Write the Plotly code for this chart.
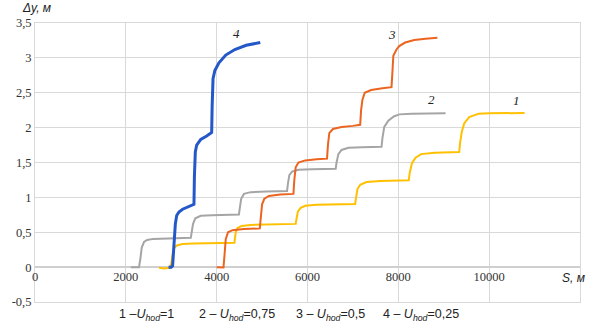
import plotly.graph_objects as go

# ---- data ----
s1 = [2730, 2850, 2960, 3000, 3030, 3060, 3120, 3250, 3500, 4000, 4390,
      4400, 4420, 4460, 4550, 4750, 5200, 5740,
      5760, 5790, 5850, 5950, 6200, 6600, 7050,
      7070, 7100, 7160, 7300, 7600, 8230,
      8250, 8300, 8380, 8500, 8800, 9340,
      9360, 9400, 9450, 9560, 9770, 10000, 10780]
y1 = [-0.01, -0.02, -0.01, 0.05, 0.18, 0.27, 0.31, 0.33, 0.34, 0.345, 0.35,
      0.40, 0.50, 0.56, 0.59, 0.605, 0.61, 0.62,
      0.70, 0.80, 0.85, 0.88, 0.895, 0.90, 0.905,
      1.00, 1.12, 1.18, 1.22, 1.235, 1.245,
      1.35, 1.49, 1.57, 1.62, 1.64, 1.65,
      1.78, 1.95, 2.06, 2.15, 2.20, 2.205, 2.21]

s2 = [2110, 2200, 2290, 2320, 2350, 2400, 2470, 2600, 2900, 3430,
      3450, 3480, 3530, 3650, 3900, 4490,
      4510, 4540, 4600, 4750, 5100, 5550,
      5570, 5600, 5660, 5800, 6100, 6620,
      6640, 6680, 6750, 6900, 7200, 7630,
      7650, 7690, 7780, 7900, 8020, 8300, 9040]
y2 = [0.0, -0.005, 0.0, 0.12, 0.28, 0.36, 0.39, 0.405, 0.41, 0.42,
      0.50, 0.62, 0.70, 0.735, 0.745, 0.755,
      0.85, 0.98, 1.05, 1.075, 1.085, 1.09,
      1.20, 1.32, 1.37, 1.395, 1.405, 1.41,
      1.50, 1.62, 1.68, 1.71, 1.72, 1.725,
      1.85, 2.01, 2.10, 2.16, 2.19, 2.20, 2.205]

s3 = [4000, 4100, 4150, 4170, 4200, 4250, 4350, 4600, 4950,
      4970, 5000, 5050, 5150, 5400, 5690,
      5710, 5740, 5800, 5950, 6200, 6430,
      6450, 6480, 6560, 6750, 7000, 7160,
      7180, 7210, 7260, 7400, 7650, 7850,
      7870, 7890, 7960, 8020, 8150, 8350, 8600, 8860]
y3 = [0.0, 0.0, -0.005, 0.15, 0.40, 0.50, 0.53, 0.545, 0.555,
      0.70, 0.90, 0.98, 1.02, 1.04, 1.05,
      1.25, 1.43, 1.50, 1.53, 1.545, 1.555,
      1.75, 1.92, 1.98, 2.01, 2.025, 2.04,
      2.25, 2.40, 2.50, 2.54, 2.565, 2.58,
      2.80, 3.03, 3.12, 3.17, 3.22, 3.255, 3.275, 3.29]

s4 = [2940, 3000, 3030, 3060, 3090, 3120, 3170, 3250, 3400, 3500,
      3510, 3530, 3560, 3650, 3780, 3890,
      3900, 3920, 3960, 4050, 4200, 4400, 4650, 4960]
y4 = [0.0, 0.0, 0.02, 0.35, 0.62, 0.74, 0.79, 0.83, 0.87, 0.90,
      1.30, 1.65, 1.75, 1.83, 1.88, 1.93,
      2.30, 2.70, 2.82, 2.93, 3.04, 3.12, 3.18, 3.22]

series = [("1", s1, y1, "#FFC000", 2.0),
          ("2", s2, y2, "#A5A5A5", 2.0),
          ("3", s3, y3, "#EB6420", 2.0),
          ("4", s4, y4, "#2458C8", 3.0)]

curve_labels = ["1", "2", "3", "4"]
curve_label_x = [10600, 8730, 7850, 4440]
curve_label_y = [2.39, 2.40, 3.33, 3.35]

legend_texts = ["1 –<i>U</i><sub><i>hod</i></sub>=1",
                "2 – <i>U</i><sub><i>hod</i></sub>=0,75",
                "3 – <i>U</i><sub><i>hod</i></sub>=0,5",
                "4 – <i>U</i><sub><i>hod</i></sub>=0,25"]
legend_x = [0.150, 0.298, 0.476, 0.634]

y_ticks = [-0.5, 0, 0.5, 1, 1.5, 2, 2.5, 3, 3.5]
y_ticktext = ["-0,5", "0", "0,5", "1", "1,5", "2", "2,5", "3", "3,5"]
x_ticks = [0, 2000, 4000, 6000, 8000, 10000]
x_ticktext = ["0", "2000", "4000", "6000", "8000", "10000"]

SERIF = "Liberation Serif"
SANS = "Liberation Sans"
GRID = "#D9D9D9"

fig = go.Figure()
for name, xs, ys, col, w in series:
    fig.add_trace(go.Scatter(x=xs, y=ys, mode="lines", name=name,
                             line=dict(color=col, width=w), showlegend=False,
                             hoverinfo="skip"))
# invisible helper trace on the crossing x axis
fig.add_trace(go.Scatter(x=[0, 12000], y=[0, 0], xaxis="x2", mode="lines",
                         line=dict(width=0), opacity=0, showlegend=False,
                         hoverinfo="skip"))

for t, x, y in zip(curve_labels, curve_label_x, curve_label_y):
    fig.add_annotation(x=x, y=y, xref="x", yref="y", text="<i>" + t + "</i>",
                       showarrow=False, font=dict(family=SERIF, size=13, color="#222"))

for t, x in zip(legend_texts, legend_x):
    fig.add_annotation(x=x, y=-0.048, xref="paper", yref="paper", text=t,
                       xanchor="left", yanchor="middle", showarrow=False,
                       font=dict(family=SANS, size=12.5, color="#222"))

fig.add_annotation(x=-0.027, y=1.085, xref="paper", yref="paper",
                   text="<i>Δy, м</i>", showarrow=False,
                   font=dict(family=SANS, size=12, color="#222"))
fig.add_annotation(x=11850, y=-0.15, xref="x", yref="y",
                   text="<i>S, м</i>", showarrow=False,
                   font=dict(family=SANS, size=12, color="#222"))

fig.update_layout(
    width=594, height=325,
    margin=dict(l=30, r=14, t=23, b=23),
    paper_bgcolor="white", plot_bgcolor="white",
    xaxis=dict(range=[0, 12000], tickvals=[0, 2000, 4000, 6000, 8000, 10000, 12000],
               showticklabels=False, showgrid=True, gridcolor=GRID, gridwidth=1,
               zeroline=False, showline=True, mirror=True, linecolor=GRID, linewidth=1,
               ticks=""),
    xaxis2=dict(range=[0, 12000], overlaying="x", anchor="free", position=0.125,
                tickvals=x_ticks, ticktext=x_ticktext, showgrid=False, zeroline=False,
                showline=False, ticks="", side="bottom",
                tickfont=dict(family=SERIF, size=12.5, color="#333")),
    yaxis=dict(range=[-0.5, 3.5], tickvals=y_ticks, ticktext=y_ticktext,
               showgrid=True, gridcolor=GRID, gridwidth=1,
               zeroline=True, zerolinecolor="#CFCFCF", zerolinewidth=1.5,
               showline=True, mirror=True, linecolor=GRID, linewidth=1, ticks="",
               tickfont=dict(family=SERIF, size=12.5, color="#333")),
)

fig.write_html("out.html")
